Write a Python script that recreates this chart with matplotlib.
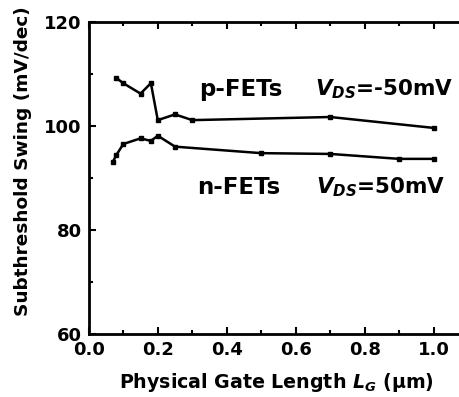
import matplotlib.pyplot as plt
from matplotlib.ticker import MultipleLocator

plt.rcParams['font.family'] = ['DejaVu Sans']
plt.rcParams['font.weight'] = 'bold'
plt.rcParams['axes.labelweight'] = 'bold'
plt.rcParams['mathtext.fontset'] = 'custom'
plt.rcParams['mathtext.it'] = 'DejaVu Sans:italic:bold'
plt.rcParams['mathtext.rm'] = 'DejaVu Sans:bold'

# gate length (um) vs subthreshold swing (mV/dec)
lg_p = [0.08, 0.10, 0.15, 0.18, 0.20, 0.25, 0.30, 0.70, 1.00]
ss_p = [109.2, 108.2, 106.2, 108.2, 101.1, 102.2, 101.1, 101.7, 99.6]

lg_n = [0.07, 0.08, 0.10, 0.15, 0.18, 0.20, 0.25, 0.50, 0.70, 0.90, 1.00]
ss_n = [93.1, 94.4, 96.5, 97.6, 97.1, 98.1, 96.0, 94.75, 94.6, 93.65, 93.65]

fig = plt.figure(figsize=(4.6, 3.97), dpi=100)
ax = fig.add_axes([0.193, 0.159, 0.825, 0.786])

ax.plot(lg_p, ss_p, '-s', color='black', lw=1.8, ms=3.5)
ax.plot(lg_n, ss_n, '-s', color='black', lw=1.8, ms=3.5)

ax.set_xlim(0, 1.1)
ax.set_ylim(60, 120)
ax.xaxis.set_major_locator(MultipleLocator(0.2))
ax.xaxis.set_minor_locator(MultipleLocator(0.1))
ax.yaxis.set_major_locator(MultipleLocator(20))
ax.yaxis.set_minor_locator(MultipleLocator(10))
ax.xaxis.set_major_formatter(lambda v, p: f'{v:.1f}')
ax.tick_params(which='both', direction='in', top=True, width=1.5, labelsize=13)
ax.tick_params(which='major', length=5, pad=5)
ax.tick_params(which='minor', length=3)
for s in ax.spines.values():
    s.set_linewidth(2)

ax.set_xlabel(r'Physical Gate Length $L_G$ (μm)', fontsize=13.7)
ax.set_ylabel('Subthreshold Swing (mV/dec)', fontsize=13.3)
ax.xaxis.set_label_coords(0.495, -0.12)
ax.yaxis.set_label_coords(-0.15, 0.554)

ax.text(0.32, 107.0, 'p-FETs', fontsize=16.5, ha='left', va='center')
ax.text(0.655, 107.0, r'$V_{DS}$=-50mV', fontsize=15.5, ha='left', va='center')
ax.text(0.314, 88.2, 'n-FETs', fontsize=16.5, ha='left', va='center')
ax.text(0.66, 88.2, r'$V_{DS}$=50mV', fontsize=15.5, ha='left', va='center')

fig.savefig('out.png', dpi=100)
